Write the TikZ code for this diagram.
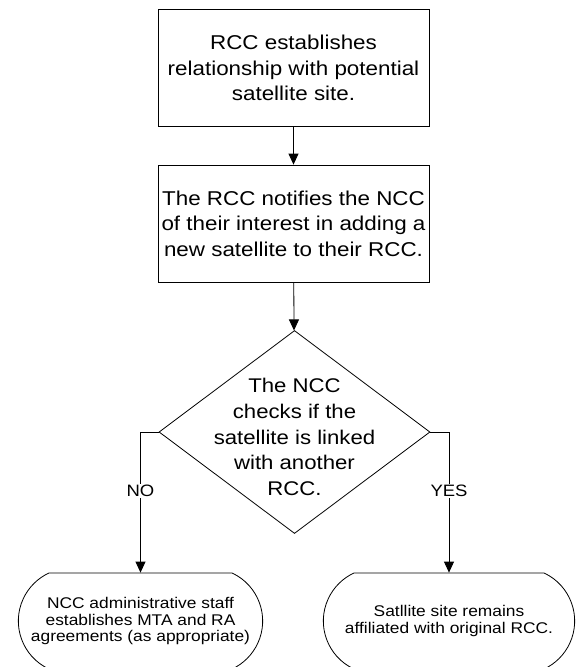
\documentclass[tikz,border=0pt]{standalone}
\usepackage{fontspec}
\setmainfont{Liberation Sans}[FakeStretch=1.12]
\usetikzlibrary{shapes.geometric,shapes.misc,arrows.meta}
\tikzset{
  process/.style={rectangle, draw, minimum width=271pt, minimum height=117pt, align=center, font=\fontsize{20pt}{25.5pt}\selectfont},
  decision/.style={diamond, draw, minimum width=271pt, minimum height=203pt, inner sep=0pt},
  question/.style={align=center, font=\fontsize{19.8pt}{25.7pt}\selectfont},
  terminal/.style={rounded rectangle, rounded rectangle arc length=130, draw, minimum height=96pt, align=center, font=\fontsize{15.5pt}{16.3pt}\selectfont},
  flow/.style={-{Triangle[length=11pt, width=10pt]}},
  answer/.style={fill=white, inner sep=1pt, font=\fontsize{16.5pt}{18pt}\selectfont}
}
\begin{document}
\begin{tikzpicture}[x=1pt, y=-1pt, line width=0.8pt]
\useasboundingbox (0,0) rectangle (585,667);
\clip (0,0) rectangle (585,667);
\node[process] (rel) at (293.5,68) {RCC establishes\\relationship with potential\\satellite site.};
\node[process] (notify) at (293.5,223.5) {The RCC notifies the NCC\\of their interest in adding a\\new satellite to their RCC.};
\node[decision] (check) at (294.5,432) {};
\node[question] (checktext) at (294.5,437) {The NCC\\checks if the\\satellite is linked\\with another\\RCC.};
\node[terminal, minimum width=251pt] (mta) at (140.5,621) {NCC administrative staff\\establishes MTA and RA\\agreements (as appropriate)};
\node[terminal, minimum width=258pt] (stay) at (449,621) {Satllite site remains\\affiliated with original RCC.};
\draw[flow] (rel) -- (notify);
\draw[flow] (notify) -- (check);
\draw[flow] (check.west) -| node[answer, pos=0.71] {NO} (mta.north);
\draw[flow] (check.east) -| node[answer, pos=0.71] {YES} (stay.north);
\end{tikzpicture}
\end{document}
